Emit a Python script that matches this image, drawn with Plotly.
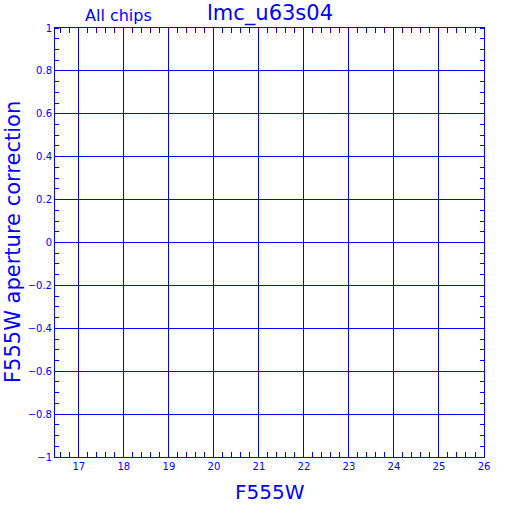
import plotly.graph_objects as go

x_range = [16.47, 26]
y_range = [-1, 1]
x_ticks = [17, 18, 19, 20, 21, 22, 23, 24, 25, 26]
y_ticks = [-1, -0.8, -0.6, -0.4, -0.2, 0, 0.2, 0.4, 0.6, 0.8, 1]
title_text = "lmc_u63s04"
subtitle_text = "All chips"
x_title = "F555W"
y_title = "F555W aperture correction"

BLUE = "#0000ff"
FONT = "DejaVu Sans"

fig = go.Figure()
fig.add_trace(go.Scatter(x=[], y=[], mode="markers", showlegend=False))

axis_common = dict(
    showline=True, linecolor=BLUE, linewidth=1, mirror="allticks",
    showgrid=True, gridcolor=BLUE, gridwidth=1,
    ticks="", zeroline=False, automargin=False,
    tickfont=dict(family=FONT, size=10, color=BLUE),
)

fig.update_xaxes(
    range=x_range, tickvals=x_ticks, ticktext=[str(v) for v in x_ticks],
    minor=dict(dtick=0.2, tick0=0, ticks="inside", ticklen=5, tickcolor=BLUE, showgrid=False),
    **axis_common,
)
fig.update_yaxes(
    range=y_range, tickvals=y_ticks,
    ticktext=[("%g" % v).replace("-", "\u2212") for v in y_ticks],
    minor=dict(dtick=0.05, tick0=0, ticks="inside", ticklen=4, tickcolor=BLUE, showgrid=False),
    **axis_common,
)

fig.add_annotation(text=title_text, xref="paper", yref="paper", x=0.5, y=1, yshift=15,
                   xanchor="center", yanchor="middle", showarrow=False,
                   font=dict(family=FONT, size=21, color=BLUE))
fig.add_annotation(text=subtitle_text, xref="paper", yref="paper", x=0.148, y=1, yshift=13,
                   xanchor="center", yanchor="middle", showarrow=False,
                   font=dict(family=FONT, size=16, color=BLUE))
fig.add_annotation(text=x_title, xref="paper", yref="paper", x=0.5, y=0, yshift=-34.5,
                   xanchor="center", yanchor="middle", showarrow=False,
                   font=dict(family=FONT, size=20, color=BLUE))
fig.add_annotation(text=y_title, xref="paper", yref="paper", x=0, y=0.5, xshift=-42.5,
                   xanchor="center", yanchor="middle", textangle=-90, showarrow=False,
                   font=dict(family=FONT, size=21, color=BLUE))

fig.update_layout(
    width=512, height=512,
    margin=dict(l=54.5, r=27.5, t=27.5, b=54.5),
    paper_bgcolor="white", plot_bgcolor="white",
    showlegend=False,
)

fig.write_html("out.html", config={"displayModeBar": False},
               post_script="document.body.style.margin='0';document.body.style.overflow='hidden';")
